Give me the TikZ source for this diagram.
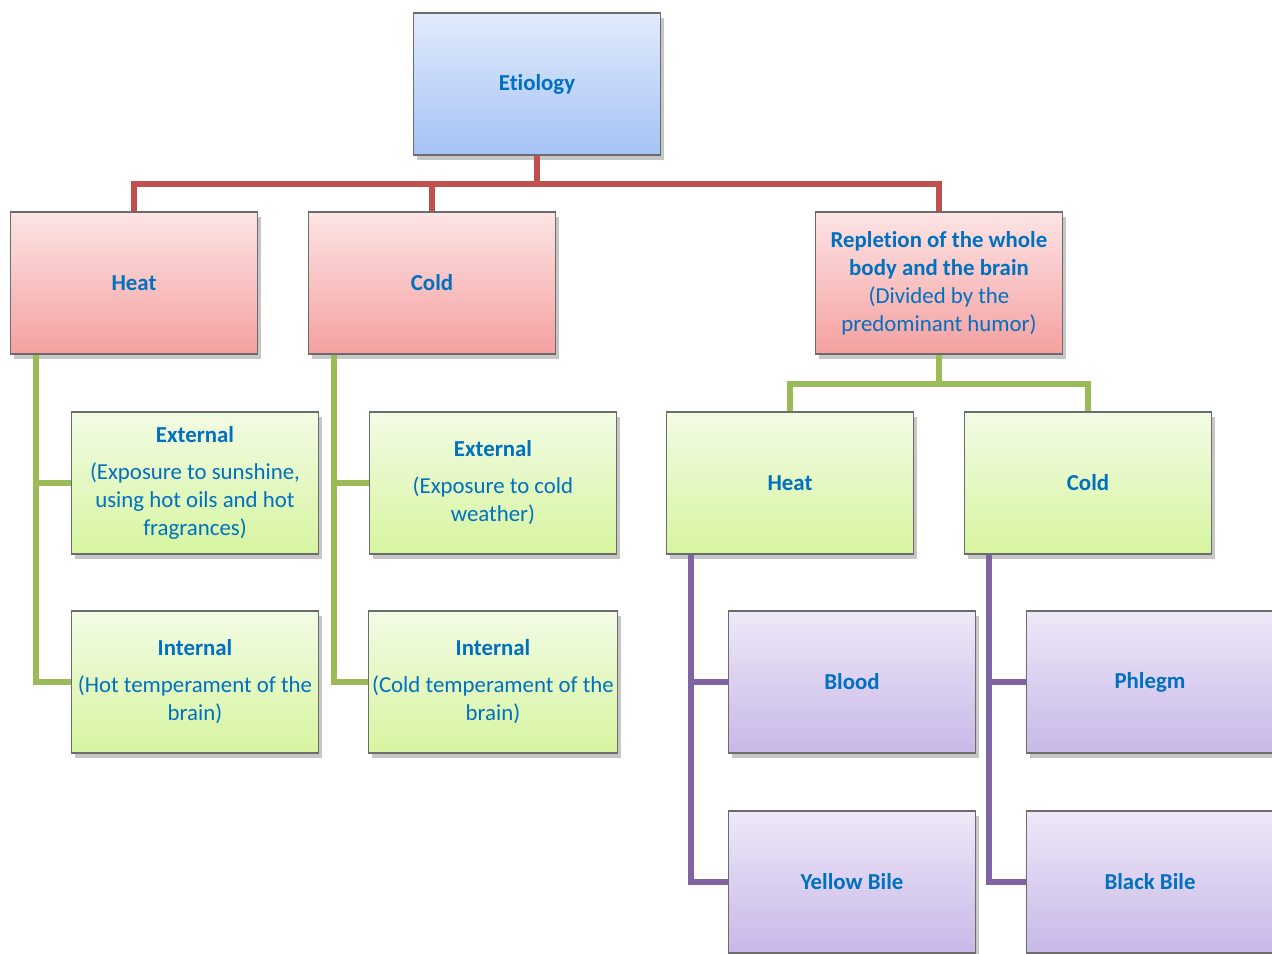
\documentclass[tikz,border=0pt]{standalone}
\usepackage{fontspec}
\setmainfont{Carlito}[Ligatures=NoCommon]
\usetikzlibrary{shadows}

\definecolor{txtblue}{HTML}{0070C0}
\definecolor{redline}{HTML}{C0504D}
\definecolor{greenline}{HTML}{9BBB59}
\definecolor{purpleline}{HTML}{8064A2}

\tikzset{
  box/.style={draw=gray!85!black, line width=0.9pt, minimum width=4.94cm, minimum height=2.84cm,
    inner sep=2pt, align=center, text=txtblue, font=\fontsize{13}{16}\selectfont,
    drop shadow={shadow xshift=2pt, shadow yshift=-3pt, opacity=0.45}},
  bluebox/.style={box, top color={rgb,255:red,226;green,235;blue,252}, bottom color={rgb,255:red,164;green,194;blue,245}},
  redbox/.style={box, top color={rgb,255:red,253;green,228;blue,228}, bottom color={rgb,255:red,245;green,160;blue,160}},
  greenbox/.style={box, top color={rgb,255:red,242;green,251;blue,228}, bottom color={rgb,255:red,214;green,245;blue,160}},
  purplebox/.style={box, top color={rgb,255:red,238;green,232;blue,248}, bottom color={rgb,255:red,200;green,184;blue,232}},
  link/.style={line width=3.4pt}
}

\begin{document}
\begin{tikzpicture}[x=0.02cm, y=-0.02cm]
  \useasboundingbox (0,0) rectangle (1272,954);

  % top level
  \node[bluebox] (et) at (537,84) {\textbf{Etiology}};

  % causes
  \node[redbox] (heat) at (134,283) {\textbf{Heat}};
  \node[redbox] (cold) at (432,283) {\textbf{Cold}};
  \node[redbox] (repl) at (939,283) {\textbf{Repletion of the whole}\\\textbf{body and the brain}\\(Divided by the\\predominant humor)};

  % heat and cold
  \node[greenbox] (hext) at (195,483) {\textbf{External}\\[5pt](Exposure to sunshine,\\using hot oils and hot\\fragrances)};
  \node[greenbox] (hint) at (195,682) {\textbf{Internal}\\[5pt](Hot temperament of the\\brain)};
  \node[greenbox] (cext) at (493,483) {\textbf{External}\\[5pt](Exposure to cold\\weather)};
  \node[greenbox] (cint) at (493,682) {\textbf{Internal}\\[5pt](Cold temperament of the\\brain)};

  % repletion
  \node[greenbox] (rheat) at (790,483) {\textbf{Heat}};
  \node[greenbox] (rcold) at (1088,483) {\textbf{Cold}};

  % humors
  \node[purplebox] (blood) at (852,682) {\textbf{Blood}};
  \node[purplebox] (ybile) at (852,882) {\textbf{Yellow Bile}};
  \node[purplebox] (phlegm) at (1150,682) {\textbf{Phlegm}};
  \node[purplebox] (bbile) at (1150,882) {\textbf{Black Bile}};

  \draw[link, redline] (et.south) -- ++(0,28) -| (heat.north);
  \draw[link, redline] (et.south) -- ++(0,28) -| (cold.north);
  \draw[link, redline] (et.south) -- ++(0,28) -| (repl.north);

  \draw[link, greenline] (heat.south west) ++(26,0) |- (hext.west);
  \draw[link, greenline] (heat.south west) ++(26,0) |- (hint.west);
  \draw[link, greenline] (cold.south west) ++(26,0) |- (cext.west);
  \draw[link, greenline] (cold.south west) ++(26,0) |- (cint.west);
  \draw[link, greenline] (repl.south) -- ++(0,29) -| (rheat.north);
  \draw[link, greenline] (repl.south) -- ++(0,29) -| (rcold.north);

  \draw[link, purpleline] (rheat.south west) ++(25,0) |- (blood.west);
  \draw[link, purpleline] (rheat.south west) ++(25,0) |- (ybile.west);
  \draw[link, purpleline] (rcold.south west) ++(25,0) |- (phlegm.west);
  \draw[link, purpleline] (rcold.south west) ++(25,0) |- (bbile.west);
\end{tikzpicture}
\end{document}
